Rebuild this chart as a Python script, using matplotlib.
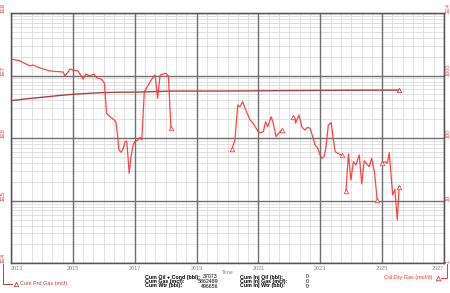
import numpy as np
import matplotlib
matplotlib.use('Agg')
import matplotlib.pyplot as plt
from matplotlib.ticker import FixedLocator

plt.rcParams['font.family'] = ['Liberation Sans', 'DejaVu Sans']

# Cal Dry Gas rate (mcf/d), separate producing periods
yr1 = [2013.00, 2013.29, 2013.61, 2013.71, 2013.94, 2014.26, 2014.68, 2014.75, 2014.91,
       2015.00, 2015.17, 2015.33, 2015.42, 2015.55, 2015.68, 2015.78, 2015.93, 2016.02,
       2016.09, 2016.20, 2016.31, 2016.39, 2016.45, 2016.49, 2016.56, 2016.63, 2016.69,
       2016.74, 2016.77, 2016.82, 2016.88, 2016.95, 2017.00, 2017.10, 2017.17, 2017.23,
       2017.31, 2017.44, 2017.55, 2017.66, 2017.74, 2017.82, 2017.92, 2018.00, 2018.09,
       2018.17]
gas1 = [1841, 1713, 1423, 1476, 1322, 1184, 1140, 984, 1274,
        1228, 1184, 881, 1059, 984, 1059, 914, 873, 753,
        250, 220, 200, 183, 106, 64.7, 59.4, 68.9, 87.8,
        90.1, 60.8, 27.4, 50.6, 77.8, 87.8, 93.5, 103, 93.5,
        553, 707, 873, 1021, 434, 1021, 1060, 1088, 985,
        144]

yr2 = [2020.14, 2020.24, 2020.33, 2020.40, 2020.49, 2020.59, 2020.73, 2020.83, 2020.99,
       2021.08, 2021.16, 2021.23, 2021.30, 2021.41, 2021.48, 2021.57, 2021.64, 2021.75]
gas2 = [66.4, 93.5, 339, 315, 383, 282, 195, 173, 127,
        122, 127, 183, 152, 220, 173, 106, 117, 135]

yr3 = [2022.13, 2022.18, 2022.20, 2022.31, 2022.40, 2022.50, 2022.59, 2022.67, 2022.74,
       2022.83, 2022.92, 2022.99, 2023.05, 2023.12, 2023.18, 2023.26, 2023.35, 2023.42,
       2023.48, 2023.61, 2023.69]
gas3 = [220, 208, 173, 234, 152, 135, 149, 144, 112,
        77.8, 68.9, 53.8, 47.6, 50.6, 68.9, 162, 177, 98,
        60.8, 55.8, 53.8]

yr4 = [2023.83, 2023.91, 2023.99, 2024.07, 2024.15, 2024.26, 2024.34, 2024.42, 2024.58,
       2024.66, 2024.75, 2024.84]
gas4 = [14.5, 55.8, 21.4, 42.0, 37.2, 53.8, 18.5, 43.6, 35.0,
        47.6, 29.1, 10.3]

yr5 = [2024.99, 2025.11, 2025.17, 2025.23, 2025.34, 2025.41, 2025.49, 2025.55]
gas5 = [40.5, 42.0, 39.6, 58.6, 12.4, 15.2, 4.92, 16.8]

# Cum Prd Gas (mcf)
yr_cum = [2013.0, 2013.5, 2014.0, 2014.5, 2015.0, 2015.5, 2016.0, 2016.5, 2017.0,
          2017.5, 2018.2, 2020.1, 2021.8, 2023.7, 2024.8, 2025.55]
cum_gas = [3.97e6, 4.25e6, 4.50e6, 4.77e6, 5.02e6, 5.20e6, 5.35e6, 5.42e6, 5.44e6,
           5.52e6, 5.66e6, 5.67e6, 5.75e6, 5.82e6, 5.84e6, 5.86e6]

year_ticks = list(range(2013, 2028, 2))
left_ticks = [1e4, 1e5, 1e6, 1e7, 1e8]
left_labels = ['1E4', '1E5', '1E6', '1E7', '1E8']
right_ticks = [1, 10, 100, 1000, 1e4]
right_labels = ['1', '10', '100', '1000', '1E4']

stats_left = [('Cum Oil + Cond (bbl):', '37073'), ('Cum Gas (mcf):', '5862489'),
              ('Cum Wtr (bbl):', '496656')]
stats_right = [('Cum Inj Oil (bbl):', '0'), ('Cum Inj Gas (mcf):', '0'),
               ('Cum Inj Wtr (bbl):', '0')]

rate_col = '#ff3030'
cum_col = '#ad4040'
lab_red = '#d04040'

fig = plt.figure(figsize=(4.5, 2.93), dpi=100)
ax = fig.add_axes([11/450, 29.7/293, 433/450, 250.3/293])
ax2 = ax.twinx()

ax.set_xlim(2013, 2027)
ax.set_yscale('log')
ax.set_ylim(1e4, 1e8)
ax2.set_yscale('log')
ax2.set_ylim(1, 1e4)

# grid drawn by hand so the dark lines stay on top of the light ones
x_minor = [2013 + i/3 for i in range(43) if i % 6 != 0]
y_minor = [m * 10.0**d for d in range(4, 8) for m in range(2, 10)]
for xv in x_minor:
    ax.axvline(xv, color='#dcdcdc', lw=0.6, zorder=0.5)
for yv in y_minor:
    ax.axhline(yv, color='#dcdcdc', lw=0.6, zorder=0.5)
for xv in year_ticks:
    ax.axvline(xv, color='#707070', lw=1.0, zorder=0.8)
for yv in left_ticks:
    ax.axhline(yv, color='#707070', lw=1.0, zorder=0.8)

ax.xaxis.set_major_locator(FixedLocator(year_ticks))
ax.xaxis.set_minor_locator(FixedLocator([]))
ax.yaxis.set_major_locator(FixedLocator(left_ticks))
ax.yaxis.set_minor_locator(FixedLocator([]))

ax.set_xticklabels([str(y) for y in year_ticks])
ax.tick_params(axis='x', which='both', length=0, pad=2.2, labelsize=4, labelcolor='#8a8a8a')
xl = ax.get_xticklabels()
xl[0].set_ha('left')
xl[-1].set_ha('right')

ax.set_yticklabels(left_labels)
ax.tick_params(axis='y', which='both', length=0, pad=4, labelsize=4, labelcolor=lab_red)
for lbl in ax.get_yticklabels():
    lbl.set_rotation(90)
    lbl.set_va('bottom')

ax2.yaxis.set_major_locator(FixedLocator(right_ticks))
ax2.yaxis.set_minor_locator(FixedLocator([]))
ax2.set_yticklabels(right_labels)
ax2.tick_params(axis='y', which='both', length=0, pad=1.2, labelsize=4, labelcolor='#ff4040')
for lbl in ax2.get_yticklabels():
    lbl.set_rotation(90)
    lbl.set_va('bottom')

for a in (ax, ax2):
    for s in a.spines.values():
        s.set_color('#555555')
        s.set_linewidth(0.9)

# cum curve
ax.plot(yr_cum, cum_gas, color=cum_col, lw=1.0, marker='^', markevery=[len(yr_cum)-1],
        ms=3.2, mfc='white', mec=cum_col, mew=0.6, zorder=3)

# rate curves
segs = [(yr1, gas1, [len(yr1)-1]), (yr2, gas2, [0, len(yr2)-1]), (yr3, gas3, [0, len(yr3)-1]),
        (yr4, gas4, [0, len(yr4)-1]), (yr5, gas5, [0, len(yr5)-1])]
for x, y, me in segs:
    ax2.plot(x, y, color=rate_col, lw=0.9, alpha=0.9, marker='^', markevery=me,
             ms=3.2, mfc='white', mec=rate_col, mew=0.6, zorder=3)

fig.text(228/450, 1-272/293, 'Time', fontsize=4, color='#8a8a8a', ha='center', va='center')

# legend-like annotations
fig.add_artist(plt.Line2D([3/450, 3/450, 12/450], [1-264/293, 1-284/293, 1-284/293],
                          color=cum_col, lw=0.7))
fig.add_artist(plt.Line2D([15.5/450], [1-284/293], marker='^', ms=3.2, mfc='white',
                          mec=cum_col, mew=0.6))
fig.text(20/450, 1-284/293, 'Cum Prd Gas (mcf)', fontsize=4, color=cum_col, va='center')

fig.add_artist(plt.Line2D([441/450, 446.7/450, 446.7/450], [1-278/293, 1-278/293, 1-264/293],
                          color=rate_col, lw=0.7))
fig.add_artist(plt.Line2D([437.5/450], [1-278/293], marker='^', ms=3.2, mfc='white',
                          mec=rate_col, mew=0.6))
fig.text(433/450, 1-278/293, 'Cal Dry Gas (mcf/d)', fontsize=4, color=rate_col,
         va='center', ha='right')

# stats block
row_y = [277, 281.5, 286]
for (k, v), yy in zip(stats_left, row_y):
    fig.text(145/450, 1-yy/293, k, fontsize=3.8, weight='bold', va='center')
    fig.text(218/450, 1-yy/293, v, fontsize=3.8, va='center', ha='right')
for (k, v), yy in zip(stats_right, row_y):
    fig.text(240/450, 1-yy/293, k, fontsize=3.8, weight='bold', va='center')
    fig.text(309/450, 1-yy/293, v, fontsize=3.8, va='center', ha='right')

fig.savefig('out.png', dpi=100)
